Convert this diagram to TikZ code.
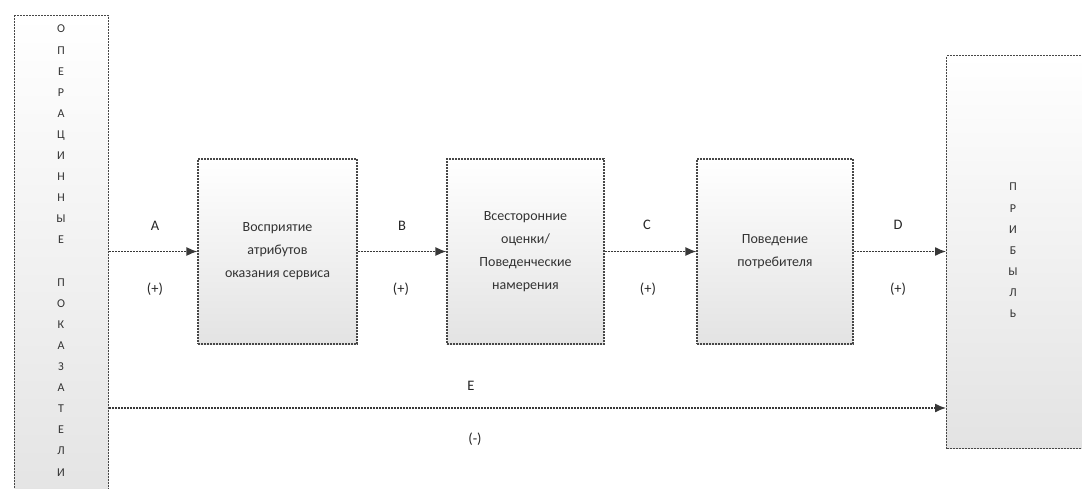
\documentclass[tikz,border=0pt]{standalone}
\usepackage{fontspec}
\setmainfont{Carlito}
\usetikzlibrary{arrows.meta}

\begin{document}
\begin{tikzpicture}[x=1pt, y=-1pt,
	blok/.style={draw=black!72, dash pattern=on 2pt off 1pt, line width=1.2pt,
		top color=white, bottom color=black!11, inner sep=0pt},
	bukvy/.style={font=\fontsize{12}{21.1}\selectfont, align=center, inner sep=0pt, text=black!80},
	tekst/.style={font=\fontsize{14}{23}\selectfont, align=center, text=black!80},
	strel/.style={draw=black!78, dash pattern=on 2pt off 1pt, line width=1.3pt,
		-{Latex[length=11pt, width=9pt]}},
	metka/.style={font=\fontsize{14.5}{16}\selectfont, text=black!85}]
			%%%%% START %%%%%
			
			\useasboundingbox (0,0) rectangle (1082,488);
			\clip (0,0) rectangle (1082,488);
			
			\node[blok, minimum width=94pt, minimum height=500pt, anchor=north west] (ops) at (14,15) {};
			\node[bukvy, anchor=north] (opstekst) at (61,25) {О\\П\\Е\\Р\\А\\Ц\\И\\Н\\Н\\Ы\\Е\\\mbox{}\\П\\О\\К\\А\\З\\А\\Т\\Е\\Л\\И};
			
			\node[blok, minimum width=159pt, minimum height=185pt] (vospr) at (277.5,251.5) {};
			\node[tekst] (vosprtekst) at (vospr) {Восприятие\\атрибутов\\оказания сервиса};
			
			\node[blok, minimum width=157pt, minimum height=185pt] (ocenki) at (525.5,251.5) {};
			\node[tekst] (ocenkitekst) at (ocenki) {Всесторонние\\оценки/\\Поведенческие\\намерения};
			
			\node[blok, minimum width=156pt, minimum height=185pt] (povedenie) at (775,251.5) {};
			\node[tekst] (povedenietekst) at (povedenie) {Поведение\\потребителя};
			
			\node[blok, minimum width=160pt, minimum height=393pt, anchor=north west] (pribyl) at (946,55) {};
			\node[bukvy, anchor=north] (pribyltekst) at (1013,183) {П\\Р\\И\\Б\\Ы\\Л\\Ь};
			
			\draw[strel] (ops.east |- vospr.west) -- (vospr.west);
			\draw[strel] (vospr.east) -- (ocenki.west);
			\draw[strel] (ocenki.east) -- (povedenie.west);
			\draw[strel] (povedenie.east) -- (pribyl.west |- povedenie.east);
			
			\coordinate (eniz) at (500,408);
			\draw[strel] (ops.east |- eniz) -- (pribyl.west |- eniz);
			
			\node[metka] (la) at (155,226) {A};
			\node[metka] (lap) at (155,289) {(+)};
			\node[metka] (lb) at (402,226) {B};
			\node[metka] (lbp) at (401,289) {(+)};
			\node[metka] (lc) at (647,225) {C};
			\node[metka] (lcp) at (648,289) {(+)};
			\node[metka] (ld) at (898,225) {D};
			\node[metka] (ldp) at (898,289) {(+)};
			\node[metka] (le) at (471,386) {E};
			\node[metka] (lem) at (475,439) {(-)};
			
			%%%%% END %%%%%
\end{tikzpicture}
\end{document}
